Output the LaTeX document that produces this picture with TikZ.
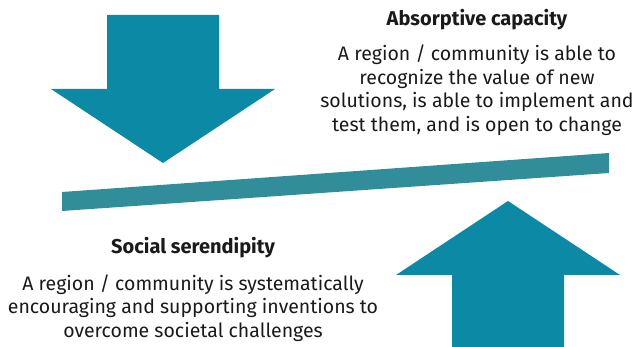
\documentclass[tikz,border=0pt]{standalone}
\usepackage{fontspec}
\setmainfont{Fira Sans}
\usetikzlibrary{positioning}
\definecolor{arrowc}{HTML}{0C89A5}
\definecolor{beamc}{HTML}{318D99}
\definecolor{textc}{HTML}{1A1A1A}
\tikzset{
  bigarrow/.style={fill=arrowc,draw=none},
  headtxt/.style={font=\bfseries\fontsize{20}{23}\selectfont,text=textc,inner sep=0pt},
  bodytxt/.style={font=\fontsize{19.5}{23.5}\selectfont,text=textc,align=center,inner sep=0pt}
}
\begin{document}
\begin{tikzpicture}[x=1pt,y=-1pt]
\useasboundingbox (0,0) rectangle (637,347);
% arrows pressing on the beam
\fill[bigarrow] (107,15) -- (219,15) -- (219,89) -- (275,89) -- (163,163) -- (51,89) -- (107,89) -- cycle;
\fill[bigarrow] (452,347) -- (452,275) -- (396,275) -- (508,201) -- (620,275) -- (564,275) -- (564,347) -- cycle;
% tilted beam
\fill[beamc] (62,192) -- (609,153) -- (609,173) -- (62,211) -- cycle;
% texts
\node[headtxt] (abshead) at (477,20) {Absorptive capacity};
\node[bodytxt] (absbody) at (477,90) {A region / community is able to\\recognize the value of new\\solutions, is able to implement and\\test them, and is open to change};
\node[headtxt] (socHead) at (193,248) {Social serendipity};
\node[bodytxt] (socbody) at (193,308) {A region / community is systematically\\encouraging and supporting inventions to\\overcome societal challenges};
\end{tikzpicture}
\end{document}
